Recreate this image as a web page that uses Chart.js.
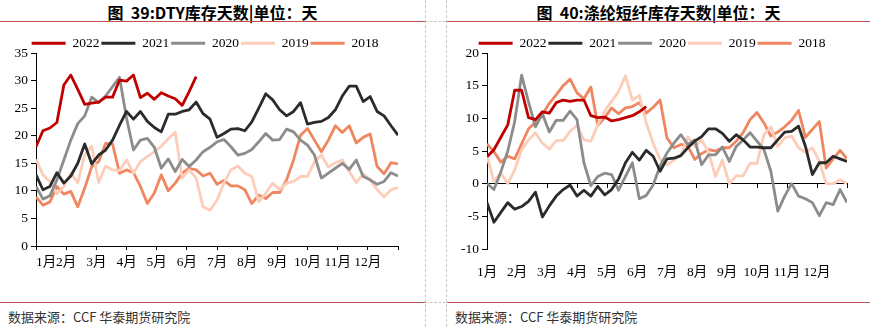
<!DOCTYPE html>
<html>
<head>
<meta charset="utf-8">
<script src="https://cdn.jsdelivr.net/npm/chart.js@4.4.1/dist/chart.umd.min.js"></script>
<style>
  body { margin: 0; width: 870px; height: 327px; position: relative; background: #fff; overflow: hidden; }
  .title { position: absolute; top: 0; height: 21px; line-height: 21px; text-align: center;
           font: bold 16px "Noto Sans CJK SC", sans-serif; color: #000; white-space: nowrap; }
  .rule { position: absolute; height: 0; border-top: 1px solid #c0504d; }
  .vdash { position: absolute; top: 0; width: 0; height: 327px; border-left: 1px dashed #c8c8c8; }
  .hdash { position: absolute; height: 0; border-top: 1px dashed #c8c8c8; }
  .source { position: absolute; top: 307px; font: 13px "Noto Sans CJK SC", sans-serif; color: #333; white-space: nowrap; }
  canvas { position: absolute; top: 0; }
</style>
</head>
<body>
<div class="title" style="left:0;width:425px">图&nbsp;&nbsp;39:DTY库存天数|单位：天</div>
<div class="title" style="left:447px;width:423px">图&nbsp;&nbsp;40:涤纶短纤库存天数|单位：天</div>
<div class="rule" style="left:0;width:425px;top:21px"></div>
<div class="rule" style="left:447px;width:423px;top:21px"></div>
<div class="rule" style="left:0;width:425px;top:302px"></div>
<div class="rule" style="left:447px;width:423px;top:302px"></div>
<div class="vdash" style="left:425px"></div>
<div class="vdash" style="left:446px"></div>
<div class="hdash" style="left:425px;width:21px;top:21px"></div>
<div class="hdash" style="left:425px;width:21px;top:302px"></div>
<div class="source" style="left:8px">数据来源：CCF&nbsp;华泰期货研究院</div>
<div class="source" style="left:455px">数据来源：CCF&nbsp;华泰期货研究院</div>

<canvas id="dty" width="413" height="300" style="left:12px"></canvas>
<canvas id="psf" width="413" height="300" style="left:457px"></canvas>

<script>
// 月份刻度
const months = ['1月', '2月', '3月', '4月', '5月', '6月', '7月', '8月', '9月', '10月', '11月', '12月'];
const years = ['2022', '2021', '2020', '2019', '2018'];

// DTY 库存天数（周度）
const dty2022 = [18.0, 20.9, 21.4, 22.4, 29.2, 31.0, 28.4, 25.7, 25.9, 26.1, 27.0, 27.0, 30.1, 29.9, 31.0, 26.9, 27.7, 26.6, 27.8, 27.2, 26.7, 25.5, 28.0, 30.7];
const dty2021 = [12.9, 10.2, 10.8, 13.3, 11.4, 12.7, 15.0, 18.5, 14.9, 16.5, 17.4, 19.2, 21.9, 24.4, 23.0, 24.4, 22.6, 21.5, 20.7, 23.9, 23.9, 24.4, 24.7, 26.1, 24.0, 23.0, 19.7, 20.4, 21.2, 21.3, 20.9, 22.5, 25.0, 27.6, 26.5, 24.7, 23.6, 24.4, 26.0, 22.1, 22.4, 22.6, 23.3, 24.7, 27.2, 29.0, 29.0, 26.2, 27.1, 24.4, 23.6, 21.8, 20.1];
const dty2020 = [10.8, 8.5, 9.1, 12.0, 15.6, 19.2, 22.2, 23.6, 27.0, 26.0, 27.2, 28.9, 30.6, 23.2, 17.4, 19.2, 19.5, 17.9, 14.1, 15.8, 13.5, 15.7, 14.4, 15.6, 17.1, 17.9, 18.9, 19.3, 18.0, 16.5, 16.8, 17.5, 18.9, 20.4, 19.2, 19.3, 21.2, 20.7, 19.2, 18.3, 16.5, 12.3, 13.2, 14.1, 15.0, 13.9, 15.6, 12.6, 12.0, 11.2, 11.7, 13.3, 12.7];
const dty2019 = [15.7, 12.9, 11.7, 9.4, 10.8, 13.2, 11.5, 16.5, 18.1, 11.5, 14.5, 13.8, 13.7, 15.6, 13.2, 15.3, 16.2, 17.1, 18.1, 19.5, 20.6, 12.3, 13.8, 12.3, 7.1, 6.5, 8.3, 11.4, 13.8, 14.5, 13.2, 12.6, 8.0, 9.6, 11.4, 10.2, 11.4, 11.7, 12.6, 12.6, 15.3, 16.5, 14.3, 15.1, 15.6, 13.5, 11.5, 13.1, 12.0, 10.2, 8.9, 10.2, 10.6];
const dty2018 = [8.9, 7.4, 8.0, 10.8, 9.4, 9.9, 7.1, 10.5, 14.4, 15.3, 18.6, 18.5, 13.2, 13.8, 13.3, 10.8, 7.7, 9.6, 12.9, 10.0, 11.4, 13.2, 14.1, 13.8, 12.7, 13.2, 11.2, 11.9, 10.9, 10.9, 10.2, 7.7, 9.2, 8.6, 9.7, 9.7, 12.0, 15.6, 20.1, 21.3, 19.2, 17.1, 19.2, 21.8, 20.6, 21.8, 18.7, 19.7, 20.3, 14.4, 13.1, 15.1, 14.9];

// 涤纶短纤库存天数（周度）
const psf2022 = [4.1, 5.2, 7.1, 9.0, 14.3, 14.3, 10.1, 9.8, 11.0, 10.8, 12.4, 12.8, 12.6, 12.8, 12.8, 10.4, 10.1, 10.2, 9.6, 9.8, 10.1, 10.4, 11.0, 11.8];
const psf2021 = [-2.9, -5.9, -4.4, -2.9, -3.9, -3.5, -2.7, -1.3, -5.1, -3.4, -1.9, -0.9, -0.2, -1.9, -1.0, -1.9, -0.4, -1.7, -0.9, 0.7, 3.2, 4.8, 3.6, 5.1, 4.2, 1.9, 3.8, 3.9, 4.3, 5.5, 6.5, 7.2, 8.4, 8.4, 7.7, 6.5, 7.5, 6.7, 5.6, 5.6, 5.5, 5.5, 6.7, 7.9, 8.0, 8.8, 5.7, 1.4, 3.2, 3.2, 4.2, 3.8, 3.4];
const psf2020 = [0.0, -0.9, 1.8, 5.0, 9.5, 16.6, 12.5, 8.7, 10.7, 7.9, 9.7, 9.7, 11.1, 9.8, 3.2, -0.3, 1.1, 1.6, 1.4, -1.0, 1.1, 3.2, -2.3, -1.8, -0.2, 2.7, 4.7, 6.2, 7.5, 6.0, 6.7, 2.9, 4.4, 4.4, 5.6, 3.4, 5.7, 6.7, 7.8, 6.5, 5.2, 1.9, -4.2, -1.9, 0.0, -1.9, -2.3, -2.9, -4.9, -2.9, -3.2, -0.9, -2.9];
const psf2019 = [4.2, 0.4, 1.6, 0.0, 2.1, 5.2, 6.7, 7.8, 6.2, 5.3, 6.6, 6.6, 8.0, 8.9, 6.7, 6.5, 9.0, 11.1, 12.6, 14.1, 16.5, 12.8, 13.5, 9.3, 6.2, 3.7, 2.9, 3.6, 4.4, 7.2, 5.7, 6.7, 4.8, 1.1, 3.6, 0.0, 1.2, 1.2, 3.1, 3.1, 7.5, 8.7, 5.7, 7.0, 7.3, 5.5, 4.8, 5.5, 3.4, 0.0, 0.0, 0.6, 0.0];
const psf2018 = [6.1, 4.9, 3.3, 4.2, 3.8, 6.1, 8.4, 9.4, 10.6, 12.3, 13.6, 15.0, 16.0, 13.9, 13.0, 14.8, 8.9, 10.1, 11.6, 10.7, 11.6, 11.8, 12.4, 10.8, 11.7, 12.8, 7.0, 5.5, 6.0, 5.8, 3.7, 4.6, 5.2, 5.0, 5.5, 5.5, 6.5, 7.8, 9.8, 10.9, 9.3, 7.3, 7.9, 8.7, 9.7, 11.2, 7.1, 8.3, 9.5, 2.4, 3.8, 5.1, 3.8];

const WEEKS = 52;
const colors = ['#c00000', '#2b2b2b', '#8c8c8c', '#fccdb9', '#f0865f'];
const tickFont = { family: "'Liberation Serif', 'Noto Sans CJK SC', serif", size: 13.5 };

// 每月起点（按周换算），最后一个是年末
const monthTicks = [...months, ''].map((m, i) => i * WEEKS / 12);
const setMonthTicks = scale => { scale.ticks = monthTicks.map(v => ({ value: v })); };
const monthLabel = (v, i) => months[i] || '';

function toPoints(arr) {
  return arr.map((v, i) => ({ x: i, y: v }));
}

function makeDatasets(list) {
  return list.map((arr, i) => ({
    label: years[i],
    data: toPoints(arr),
    borderColor: colors[i],
    backgroundColor: colors[i],
    borderWidth: 2.8,
    pointRadius: 0,
    tension: 0,
    borderJoinStyle: 'round'
  }));
}

const legendOpts = {
  position: 'top',
  maxHeight: 18.5,
  labels: {
    boxWidth: 34,
    boxHeight: 3,
    padding: 2,
    color: '#000',
    font: tickFont,
    generateLabels: c => Chart.defaults.plugins.legend.labels.generateLabels(c).map(l => ({ ...l, lineWidth: 0 }))
  }
};

// 图39：DTY
new Chart(document.getElementById('dty'), {
  type: 'line',
  data: { datasets: makeDatasets([dty2022, dty2021, dty2020, dty2019, dty2018]) },
  options: {
    responsive: false,
    animation: false,
    layout: { padding: { top: 34.5, right: 27, bottom: 0, left: 0 } },
    plugins: { legend: legendOpts, tooltip: { enabled: false } },
    scales: {
      x: {
        type: 'linear', min: 0, max: WEEKS,
        afterBuildTicks: setMonthTicks,
        afterFit: s => { s.height = 54; },
        ticks: { callback: monthLabel, autoSkip: false, maxRotation: 0, align: 'inner', color: '#000', font: tickFont, padding: 4 },
        grid: { drawOnChartArea: false, tickLength: 4, color: '#000' },
        border: { color: '#000' }
      },
      y: {
        min: 0, max: 35,
        afterFit: s => { s.width = 24; },
        ticks: { stepSize: 5, color: '#000', font: tickFont, padding: 3 },
        grid: { drawOnChartArea: false, tickLength: 5, color: '#000' },
        border: { color: '#000' }
      }
    }
  }
});

// 图40：涤纶短纤，横轴画在 0 值处，月份标在底部
new Chart(document.getElementById('psf'), {
  type: 'line',
  data: { datasets: makeDatasets([psf2022, psf2021, psf2020, psf2019, psf2018]) },
  options: {
    responsive: false,
    animation: false,
    layout: { padding: { top: 34.5, right: 23, bottom: 0, left: 0 } },
    plugins: { legend: legendOpts, tooltip: { enabled: false } },
    scales: {
      x: {
        type: 'linear', min: 0, max: WEEKS,
        position: { y: 0 },
        afterBuildTicks: setMonthTicks,
        ticks: { callback: () => '' },
        grid: { drawOnChartArea: false, tickLength: 4, color: '#000' },
        border: { color: '#000' }
      },
      x2: {
        axis: 'x', type: 'linear', min: 0, max: WEEKS,
        position: 'bottom',
        afterBuildTicks: setMonthTicks,
        afterFit: s => { s.height = 51; },
        ticks: { callback: monthLabel, autoSkip: false, maxRotation: 0, color: '#000', font: tickFont, padding: 7 },
        grid: { display: false },
        border: { display: false }
      },
      y: {
        min: -10, max: 20,
        afterFit: s => { s.width = 30; },
        ticks: { stepSize: 5, color: '#000', font: tickFont, padding: 3 },
        grid: { drawOnChartArea: false, tickLength: 5, color: '#000' },
        border: { color: '#000' }
      }
    }
  }
});
</script>
</body>
</html>
